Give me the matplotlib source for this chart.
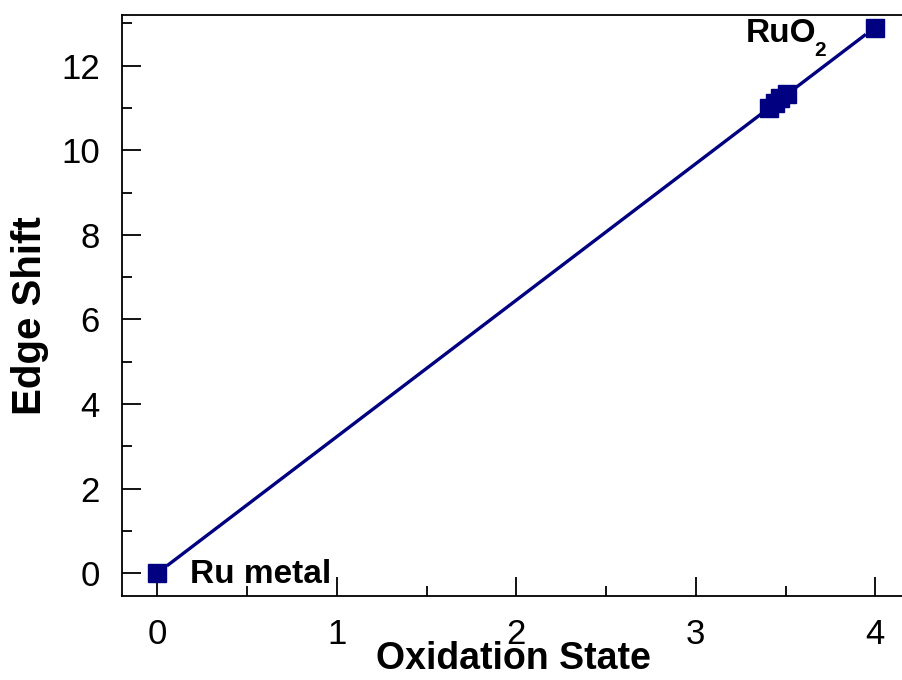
import numpy as np
import matplotlib
matplotlib.use("Agg")
import matplotlib.pyplot as plt
from matplotlib.ticker import MultipleLocator

# Data
oxidation_state = [0.0, 3.41, 3.44, 3.47, 3.51, 4.0]
edge_shift = [0.0, 10.99, 11.11, 11.23, 11.33, 12.9]
fit_span = [0.06, 3.94]   # the fit line stops short of the end markers

plt.rcParams['font.family'] = ['Liberation Sans', 'DejaVu Sans']

navy = '#000080'

fig = plt.figure(figsize=(9.03, 6.8), dpi=100)
ax = fig.add_axes([0.1351, 0.1235, 0.8660, 0.8544])

# linear fit
slope, intercept = np.polyfit(oxidation_state, edge_shift, 1)
xf = np.array(fit_span)
ax.plot(xf, slope * xf + intercept, color=navy, linewidth=2.4, zorder=2)

ax.plot(oxidation_state, edge_shift, linestyle='none', marker='s',
        markersize=12.5, color=navy, zorder=3)

# labels for the end points (subscript drawn as its own text, lower like the original)
ax.text(0.18, -0.24, 'Ru metal', fontsize=24, fontweight='bold', ha='left', va='baseline')
ax.text(3.28, 12.57, 'RuO', fontsize=24, fontweight='bold', ha='left', va='baseline')
ax.text(3.66, 12.24, '2', fontsize=15, fontweight='bold', ha='left', va='baseline')

ax.set_xlim(-0.197, 4.16)
ax.set_ylim(-0.54, 13.2)

ax.xaxis.set_major_locator(MultipleLocator(1))
ax.xaxis.set_minor_locator(MultipleLocator(0.5))
ax.yaxis.set_major_locator(MultipleLocator(2))
ax.yaxis.set_minor_locator(MultipleLocator(1))

ax.tick_params(which='both', direction='in', width=1.3, labelsize=25)
ax.tick_params(which='major', length=14)
ax.tick_params(which='minor', length=7)
ax.tick_params(axis='y', which='major', pad=16)
ax.tick_params(axis='x', which='major', pad=16)
ax.spines['right'].set_visible(False)
for s in ['left', 'bottom', 'top']:
    ax.spines[s].set_linewidth(1.3)

ax.set_xlabel('Oxidation State', fontsize=27, fontweight='bold')
ax.xaxis.set_label_coords(0.5, -0.077)
ax.set_ylabel('Edge Shift', fontsize=29, fontweight='bold', va='center')
ax.yaxis.set_label_coords(-0.118, 0.482)

fig.savefig('out.png', dpi=100)
